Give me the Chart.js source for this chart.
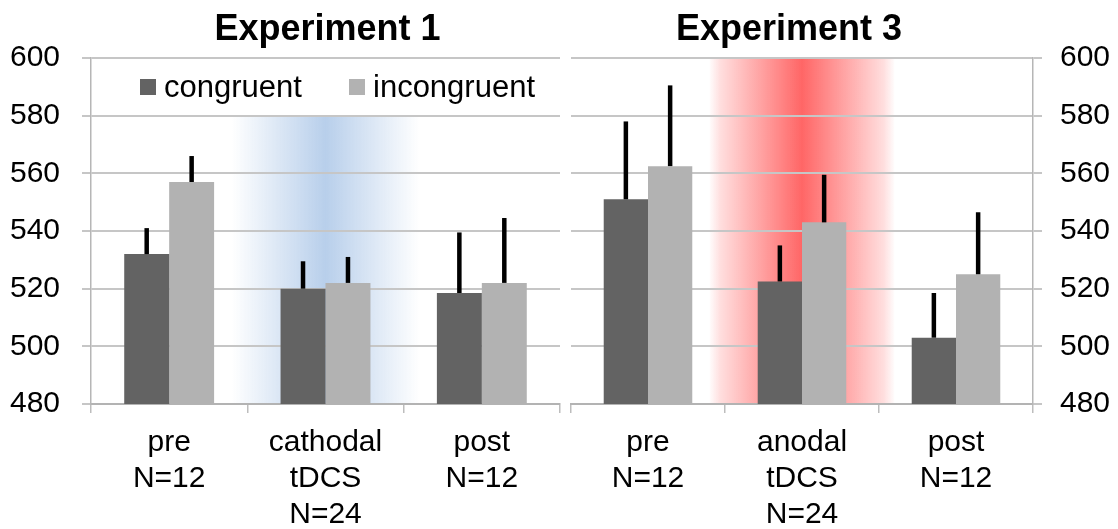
<!DOCTYPE html>
<html>
<head>
<meta charset="utf-8">
<script src="https://cdn.jsdelivr.net/npm/chart.js@4.4.1/dist/chart.umd.min.js"></script>
<style>
  html, body { margin: 0; padding: 0; background: #fff; }
  #wrap { position: relative; width: 1118px; height: 529px; overflow: hidden; }
  canvas { position: absolute; top: 0; }
  #exp1 { left: 0; }
  #exp3 { left: 566px; }
</style>
</head>
<body>
<div id="wrap">
  <canvas id="exp1" width="566" height="529"></canvas>
  <canvas id="exp3" width="552" height="529"></canvas>
</div>
<script>
// ---- data ----
const seriesNames = ['congruent', 'incongruent'];

const exp1Categories = [['pre', 'N=12'], ['cathodal', 'tDCS', 'N=24'], ['post', 'N=12']];
const exp3Categories = [['pre', 'N=12'], ['anodal', 'tDCS', 'N=24'], ['post', 'N=12']];

const exp1Congruent      = [532, 520, 518.5];
const exp1Incongruent    = [557, 522, 522];
const exp1CongruentErr   = [9, 9.5, 21];
const exp1IncongruentErr = [9, 9, 22.5];

const exp3Congruent      = [551, 522.5, 503];
const exp3Incongruent    = [562.5, 543, 525];
const exp3CongruentErr   = [27, 12.5, 15.5];
const exp3IncongruentErr = [28, 16.5, 21.5];

const yTicks = [480, 500, 520, 540, 560, 580, 600];

// stimulation block in each experiment: category index and upper value of the shaded band
const exp1Stim = { index: 1, top: 580 };
const exp3Stim = { index: 1, top: 600 };

// ---- styling ----
const FONT = "'Liberation Sans', Arial, Helvetica, sans-serif";
const COLORS = ['#636363', '#b2b2b2'];

// shaded band behind the stimulation category, drawn under the grid
const stimBand = {
  id: 'stimBand',
  beforeDraw(chart, args, opts) {
    const { ctx, scales: { x, y } } = chart;
    const cx = x.getPixelForValue(opts.index);
    const half = Math.abs(x.getPixelForValue(1) - x.getPixelForValue(0)) * opts.halfWidth;
    const top = y.getPixelForValue(opts.top);
    const bottom = y.getPixelForValue(y.min);
    const g = ctx.createLinearGradient(cx - half, 0, cx + half, 0);
    opts.stops.forEach(([o, c]) => g.addColorStop(o, c));
    ctx.save();
    ctx.fillStyle = g;
    ctx.fillRect(cx - half, top, half * 2, bottom - top);
    ctx.restore();
  }
};

// one-sided error bars above each bar
const errorBars = {
  id: 'errorBars',
  afterDatasetsDraw(chart, args, opts) {
    const { ctx, scales: { y } } = chart;
    ctx.save();
    ctx.strokeStyle = opts.color;
    ctx.lineWidth = opts.width;
    ctx.lineCap = 'butt';
    chart.data.datasets.forEach((ds, i) => {
      const meta = chart.getDatasetMeta(i);
      meta.data.forEach((bar, j) => {
        const v = ds.data[j];
        const e = opts.errors[i][j];
        ctx.beginPath();
        ctx.moveTo(bar.x, y.getPixelForValue(v));
        ctx.lineTo(bar.x, y.getPixelForValue(v + e));
        ctx.stroke();
      });
    });
    ctx.restore();
  }
};

// panel heading above the plot area
const panelTitle = {
  id: 'panelTitle',
  afterDraw(chart, args, opts) {
    const { ctx, chartArea } = chart;
    ctx.save();
    ctx.font = `bold ${opts.size}px ${FONT}`;
    ctx.fillStyle = '#000';
    ctx.textAlign = 'center';
    ctx.textBaseline = 'alphabetic';
    ctx.fillText(opts.text, (chartArea.left + chartArea.right) / 2 + opts.dx, opts.baseline);
    ctx.restore();
  }
};

// legend placed inside the plot area
const innerLegend = {
  id: 'innerLegend',
  afterDraw(chart, args, opts) {
    if (!opts.show) return;
    const { ctx, chartArea } = chart;
    ctx.save();
    ctx.font = `${opts.size}px ${FONT}`;
    ctx.textBaseline = 'alphabetic';
    ctx.textAlign = 'left';
    chart.data.datasets.forEach((ds, i) => {
      const bx = chartArea.left + opts.offsets[i];
      ctx.fillStyle = ds.backgroundColor;
      ctx.fillRect(bx, opts.boxTop, opts.box, opts.box);
      ctx.fillStyle = '#000';
      ctx.fillText(ds.label, bx + opts.box + opts.gap, opts.baseline);
    });
    ctx.restore();
  }
};

function buildChart(id, cfg) {
  return new Chart(document.getElementById(id), {
    type: 'bar',
    data: {
      labels: cfg.categories,
      datasets: [
        { label: seriesNames[0], data: cfg.congruent, backgroundColor: COLORS[0], borderWidth: 0,
          categoryPercentage: 0.575, barPercentage: 1.0 },
        { label: seriesNames[1], data: cfg.incongruent, backgroundColor: COLORS[1], borderWidth: 0,
          categoryPercentage: 0.575, barPercentage: 1.0 }
      ]
    },
    plugins: [stimBand, errorBars, panelTitle, innerLegend],
    options: {
      responsive: false,
      animation: false,
      events: [],
      layout: { padding: cfg.padding },
      scales: {
        x: {
          offset: true,
          grid: { display: true, drawOnChartArea: false, offset: true, tickLength: 9,
                  color: '#bdbdbd', lineWidth: 1.5 },
          border: { display: true, color: '#b3b3b3', width: 2 },
          ticks: { color: '#000', font: { family: FONT, size: 30, lineHeight: 1.2 },
                   padding: 12, maxRotation: 0, autoSkip: false },
          afterFit(s) { s.height = 125; }
        },
        y: {
          position: cfg.yPosition,
          min: yTicks[0],
          max: yTicks[yTicks.length - 1],
          grid: { color: '#c6c6c6', lineWidth: 2, tickLength: 9 },
          border: { display: true, color: '#b6b6b6', width: 1.5 },
          ticks: { stepSize: yTicks[1] - yTicks[0], color: '#000',
                   font: { family: FONT, size: 30 }, padding: cfg.tickPad },
          afterFit(s) { s.width = cfg.axisWidth; }
        }
      },
      plugins: {
        legend: { display: false },
        tooltip: { enabled: false },
        title: { display: false },
        stimBand: { index: cfg.stim.index, top: cfg.stim.top, halfWidth: 0.6, stops: cfg.bandStops },
        errorBars: { errors: [cfg.congruentErr, cfg.incongruentErr], color: '#000', width: 4.5 },
        panelTitle: { text: cfg.title, size: 36, baseline: 40, dx: cfg.titleDx },
        innerLegend: { show: cfg.legend, size: 31, box: 16, boxTop: 79, baseline: 97, gap: 8,
                       offsets: [49, 258] }
      }
    }
  });
}

buildChart('exp1', {
  title: 'Experiment 1',
  titleDx: 2,
  categories: exp1Categories,
  congruent: exp1Congruent, incongruent: exp1Incongruent,
  congruentErr: exp1CongruentErr, incongruentErr: exp1IncongruentErr,
  stim: exp1Stim,
  bandStops: [[0, 'rgba(184,207,235,0)'], [0.5, 'rgba(184,207,235,1)'], [1, 'rgba(184,207,235,0)']],
  yPosition: 'left', axisWidth: 91, tickPad: 22,
  padding: { left: 0, right: 6, top: 58, bottom: 0 },
  legend: true
});

buildChart('exp3', {
  title: 'Experiment 3',
  titleDx: -13,
  categories: exp3Categories,
  congruent: exp3Congruent, incongruent: exp3Incongruent,
  congruentErr: exp3CongruentErr, incongruentErr: exp3IncongruentErr,
  stim: exp3Stim,
  bandStops: [[0, 'rgba(255,102,102,0.02)'], [0.06, 'rgba(255,102,102,0.22)'],
              [0.5, 'rgba(255,102,102,1)'], [0.94, 'rgba(255,102,102,0.22)'],
              [1, 'rgba(255,102,102,0.02)']],
  yPosition: 'right', axisWidth: 85, tickPad: 18,
  padding: { left: 5, right: 0, top: 58, bottom: 0 },
  legend: false
});
</script>
</body>
</html>
